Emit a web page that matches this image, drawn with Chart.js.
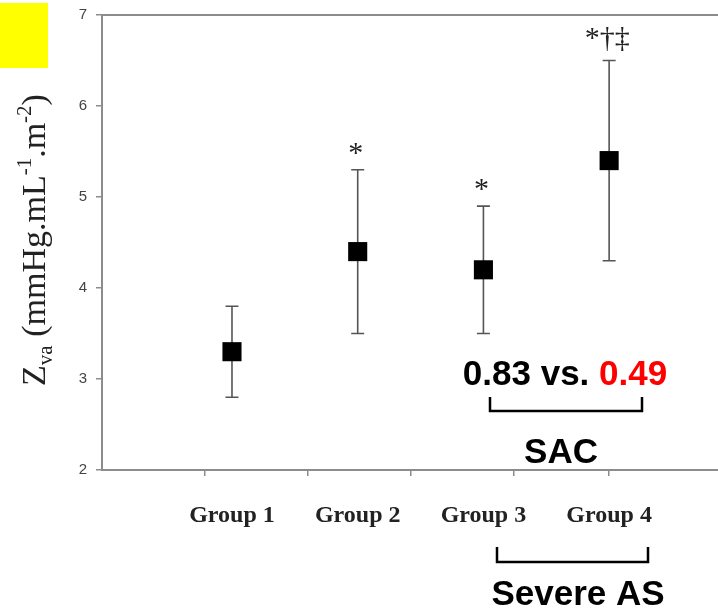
<!DOCTYPE html>
<html lang="en">
<head>
<meta charset="UTF-8">
<title>Zva by group</title>
<script src="https://cdn.jsdelivr.net/npm/chart.js"></script>
<style>
    html, body { margin: 0; padding: 0; background: #fff; }
    #wrap { width: 718px; height: 611px; }
</style>
</head>
<body>
<div id="wrap"><canvas id="chart" width="718" height="611"></canvas></div>
<script>
// data
const groups = ['Group 1', 'Group 2', 'Group 3', 'Group 4'];
const groupPos = [1, 2, 3, 4];
const means = [3.3, 4.4, 4.2, 5.4];
const upper = [3.8, 5.3, 4.9, 6.5];
const lower = [2.8, 3.5, 3.5, 4.3];
const sigMarks = ['', '*', '*', '*\u2020\u2021'];
const xTickMarks = [0.78, 1.6, 2.42, 3.24, 4];
const yTicks = [2, 3, 4, 5, 6, 7];

const axisGray = '#8c8c8c';
const barGray = '#555';

const overlay = {
    id: 'overlay',
    beforeDraw(chart) {
        const ctx = chart.ctx;
        ctx.save();
        ctx.fillStyle = '#fff';
        ctx.fillRect(0, 0, chart.width, chart.height);
        ctx.fillStyle = '#ffff00';
        ctx.fillRect(0, 3, 48, 65);
        ctx.restore();
    },
    beforeDatasetsDraw(chart) {
        // error bars
        const ctx = chart.ctx;
        const xs = chart.scales.x, ys = chart.scales.y;
        ctx.save();
        ctx.strokeStyle = barGray;
        ctx.lineWidth = 1.6;
        groupPos.forEach((g, i) => {
            const x = xs.getPixelForValue(g);
            const yt = ys.getPixelForValue(upper[i]);
            const yb = ys.getPixelForValue(lower[i]);
            ctx.beginPath();
            ctx.moveTo(x, yt); ctx.lineTo(x, yb);
            ctx.moveTo(x - 6.5, yt); ctx.lineTo(x + 6.5, yt);
            ctx.moveTo(x - 6.5, yb); ctx.lineTo(x + 6.5, yb);
            ctx.stroke();
        });
        ctx.restore();
    },
    afterDraw(chart) {
        const ctx = chart.ctx;
        const xs = chart.scales.x, ys = chart.scales.y;
        const area = chart.chartArea;
        ctx.save();

        // top frame line
        ctx.strokeStyle = axisGray;
        ctx.lineWidth = 2;
        ctx.beginPath();
        ctx.moveTo(area.left, area.top);
        ctx.lineTo(area.right, area.top);
        ctx.stroke();

        // significance marks
        ctx.fillStyle = '#222';
        ctx.font = '30px "Liberation Serif"';
        ctx.textAlign = 'center';
        ctx.textBaseline = 'alphabetic';
        groupPos.forEach((g, i) => {
            if (!sigMarks[i]) return;
            const x = xs.getPixelForValue(g);
            const y = ys.getPixelForValue(upper[i]);
            ctx.fillText(sigMarks[i], x - 2, y - (sigMarks[i].length > 1 ? 14 : 8));
        });

        // y axis title with sub/superscripts
        const size = 34;
        const parts = [
            ['Z', 0], ['va', 1], [' (mmHg.mL', 0], ['-1', 2], ['.m', 0], ['-2', 2], [')', 0]
        ];
        const fontFor = t => (t ? Math.round(size * 0.62) : size) + 'px "Liberation Serif"';
        let total = 0;
        parts.forEach(p => { ctx.font = fontFor(p[1]); total += ctx.measureText(p[0]).width; });
        ctx.translate(45, 240);
        ctx.rotate(-Math.PI / 2);
        ctx.textAlign = 'left';
        ctx.fillStyle = '#222';
        let cx = -total / 2;
        parts.forEach(p => {
            ctx.font = fontFor(p[1]);
            const dy = p[1] === 1 ? size * 0.22 : p[1] === 2 ? -size * 0.42 : 0;
            ctx.fillText(p[0], cx, dy);
            cx += ctx.measureText(p[0]).width;
        });
        ctx.setTransform(1, 0, 0, 1, 0, 0);

        // annotations
        ctx.font = 'bold 35px "Liberation Sans"';
        ctx.textAlign = 'left';
        const a = '0.83 vs. ', b = '0.49';
        const wa = ctx.measureText(a).width, wb = ctx.measureText(b).width;
        const sx = 565 - (wa + wb) / 2;
        ctx.fillStyle = '#000';
        ctx.fillText(a, sx, 385);
        ctx.fillStyle = '#ff0000';
        ctx.fillText(b, sx + wa, 385);

        ctx.fillStyle = '#000';
        ctx.textAlign = 'center';
        ctx.fillText('SAC', 561, 463);
        ctx.fillText('Severe AS', 578, 605);

        ctx.strokeStyle = '#000';
        ctx.lineWidth = 2.5;
        ctx.beginPath();
        ctx.moveTo(490, 397); ctx.lineTo(490, 411); ctx.lineTo(642, 411); ctx.lineTo(642, 397);
        ctx.moveTo(497, 547); ctx.lineTo(497, 562); ctx.lineTo(648, 562); ctx.lineTo(648, 547);
        ctx.stroke();

        ctx.restore();
    }
};

const allXTicks = Array.from(new Set([...xTickMarks, ...groupPos])).sort((p, q) => p - q);

new Chart(document.getElementById('chart'), {
    type: 'scatter',
    data: {
        datasets: [{
            data: groupPos.map((g, i) => ({ x: g, y: means[i] })),
            pointStyle: 'rect',
            radius: 13.5,
            hoverRadius: 13.5,
            backgroundColor: '#000',
            borderColor: '#000',
            borderWidth: 0
        }]
    },
    options: {
        responsive: false,
        animation: false,
        layout: { autoPadding: false, padding: { top: 15, right: 0, left: 0, bottom: 0 } },
        plugins: { legend: { display: false }, tooltip: { enabled: false } },
        scales: {
            x: {
                type: 'linear',
                min: -0.034,
                max: 4.866,
                afterBuildTicks: s => { s.ticks = allXTicks.map(v => ({ value: v })); },
                afterFit: s => { s.height = 141; s.paddingLeft = 0; s.paddingRight = 0; },
                ticks: {
                    autoSkip: false,
                    maxRotation: 0,
                    padding: 25,
                    color: '#222',
                    font: { family: 'Liberation Serif', size: 24, weight: 'bold' },
                    callback: v => { const k = groupPos.indexOf(v); return k >= 0 ? groups[k] : ''; }
                },
                grid: {
                    drawOnChartArea: false,
                    tickLength: 6,
                    lineWidth: 1.5,
                    color: c => (c.tick && xTickMarks.includes(c.tick.value)) ? axisGray : 'rgba(0,0,0,0)'
                },
                border: { color: axisGray, width: 2 }
            },
            y: {
                min: 2,
                max: 7,
                afterBuildTicks: s => { s.ticks = yTicks.map(v => ({ value: v })); },
                afterFit: s => { s.width = 102; s.paddingTop = 0; s.paddingBottom = 0; },
                ticks: {
                    padding: 9,
                    color: '#444',
                    font: { family: 'Liberation Sans', size: 15 }
                },
                grid: { drawOnChartArea: false, tickLength: 6, lineWidth: 1.5, color: axisGray },
                border: { color: axisGray, width: 2 }
            }
        }
    },
    plugins: [overlay]
});
</script>
</body>
</html>
